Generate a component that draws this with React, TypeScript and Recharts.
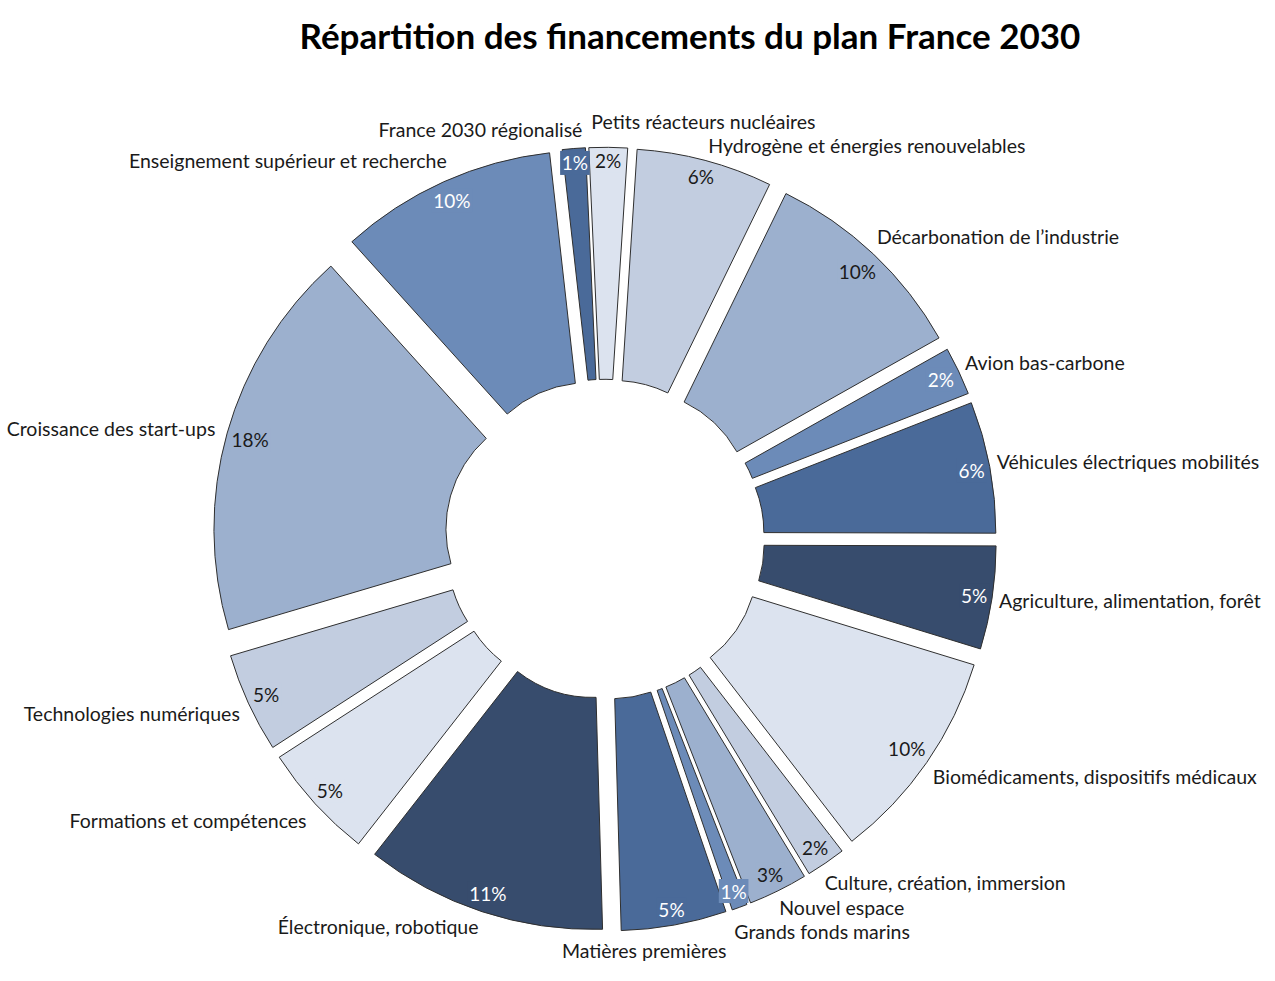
import React from 'react';
import { PieChart, Pie, Sector } from 'recharts';

// Funding areas of the France 2030 plan, clockwise from the top of the ring
const categories = [
  'Petits réacteurs nucléaires',
  'Hydrogène et énergies renouvelables',
  'Décarbonation de l’industrie',
  'Avion bas-carbone',
  'Véhicules électriques mobilités',
  'Agriculture, alimentation, forêt',
  'Biomédicaments, dispositifs médicaux',
  'Culture, création, immersion',
  'Nouvel espace',
  'Grands fonds marins',
  'Matières premières',
  'Électronique, robotique',
  'Formations et compétences',
  'Technologies numériques',
  'Croissance des start-ups',
  'Enseignement supérieur et recherche',
  'France 2030 régionalisé',
];

// Share of the total envelope, in %
const shares = [1.75, 6.2, 9.6, 2.2, 6.0, 4.7, 9.8, 1.8, 2.7, 0.7, 4.8, 11.0, 5.3, 4.55, 17.9, 9.9, 1.05];

const title = 'Répartition des financements du plan France 2030';

const data = categories.map((name, i) => ({ name, value: shares[i] }));

// Monochrome blue palette, cycled over the slices
const PALETTE = ['#DCE3EF', '#C2CDE0', '#9CB0CE', '#6C8BB8', '#4A6A99', '#374C6D'];

const FONT = 'Lato, Carlito, Calibri, sans-serif';
const RAD = Math.PI / 180;
const CX = 604.5;
const CY = 539.3;
const INNER = 122;
const OUTER = 354;
const EXPLODE = 38;
const START = 92.6;
const FS = 19;
const NAME_FS = 19.5;

// Hand-tuned shifts for category labels that would otherwise collide
const nameNudge: Record<string, { dx: number; dy: number; anchor?: 'start' | 'middle' | 'end' }> = {
  'Petits réacteurs nucléaires': { dx: -19, dy: -11 },
  'Décarbonation de l’industrie': { dx: -2, dy: -5 },
  'Agriculture, alimentation, forêt': { dx: 0, dy: -2 },
  'Biomédicaments, dispositifs médicaux': { dx: 0, dy: 4 },
  'Culture, création, immersion': { dx: -6, dy: 6 },
  'Nouvel espace': { dx: -3, dy: 3 },
  'Grands fonds marins': { dx: -9, dy: 10 },
  'Matières premières': { dx: -31, dy: 11, anchor: 'middle' },
  'Formations et compétences': { dx: -3, dy: 5 },
  'Technologies numériques': { dx: -2, dy: 2 },
  'Croissance des start-ups': { dx: -5, dy: 2 },
  'Enseignement supérieur et recherche': { dx: 7, dy: -7 },
  'France 2030 régionalisé': { dx: 11, dy: -4 },
};

const geometry = (p: any) => {
  const mid = (p.startAngle + p.endAngle) / 2;
  const ux = Math.cos(mid * RAD);
  const uy = -Math.sin(mid * RAD);
  return { ux, uy, ax: p.cx + EXPLODE * ux, ay: p.cy + EXPLODE * uy };
};

// Exploded ring slice, pushed outwards along its bisector
const renderSlice = (p: any) => {
  const { ax, ay } = geometry(p);
  return (
    <Sector
      cx={ax}
      cy={ay}
      innerRadius={p.innerRadius}
      outerRadius={p.outerRadius}
      startAngle={p.startAngle}
      endAngle={p.endAngle}
      fill={PALETTE[p.index % PALETTE.length]}
      stroke="#2f2f2f"
      strokeWidth={1}
    />
  );
};

// Percentage inside the outer end of the slice, category name outside it
const renderText = (p: any) => {
  const { ux, uy, ax, ay } = geometry(p);
  const color = PALETTE[p.index % PALETTE.length];
  const light = p.index % PALETTE.length < 3;
  const pct = `${Math.round(p.percent * 100)}%`;
  const hw = ((pct.length - 1) * 0.55 * FS + 0.8 * FS) / 2;
  const hh = FS * 0.5;
  const rText = p.outerRadius - 4 - (Math.abs(ux) * hw + Math.abs(uy) * hh);
  const tx = ax + rText * ux;
  const ty = ay + rText * uy;

  const name: string = p.name;
  const nudge = nameNudge[name] || { dx: 0, dy: 0 };
  const qx = ax + (p.outerRadius + 5) * ux;
  const qy = ay + (p.outerRadius + 5) * uy;
  const anchor = nudge.anchor || (ux >= 0 ? 'start' : 'end');
  const nx = qx + (anchor === 'middle' ? 0 : ux >= 0 ? 2 : -2) + nudge.dx;
  const ny = qy + Math.sign(uy) * Math.sqrt(Math.abs(uy)) * 10 + nudge.dy;

  return (
    <g>
      <rect x={tx - hw - 2} y={ty - 12} width={2 * hw + 4} height={24} fill={color} />
      <text
        x={tx}
        y={ty}
        textAnchor="middle"
        dominantBaseline="central"
        fontFamily={FONT}
        fontSize={FS}
        fill={light ? '#1a1a1a' : '#ffffff'}
      >
        {pct}
      </text>
      <text
        x={nx}
        y={ny}
        textAnchor={anchor}
        dominantBaseline="central"
        fontFamily={FONT}
        fontSize={NAME_FS}
        fill="#1a1a1a"
      >
        {name}
      </text>
    </g>
  );
};

export default function App() {
  return (
    <div style={{ position: 'absolute', left: 0, top: 0, width: 1275, height: 981, background: '#fff' }}>
      <PieChart width={1275} height={981} margin={{ top: 0, right: 0, bottom: 0, left: 0 }}>
        <Pie
          data={data}
          dataKey="value"
          nameKey="name"
          cx={CX}
          cy={CY}
          innerRadius={INNER}
          outerRadius={OUTER}
          startAngle={START}
          endAngle={START - 360}
          fill="none"
          stroke="none"
          label={renderSlice}
          labelLine={false}
          isAnimationActive={false}
        />
        <Pie
          data={data}
          dataKey="value"
          nameKey="name"
          cx={CX}
          cy={CY}
          innerRadius={INNER}
          outerRadius={OUTER}
          startAngle={START}
          endAngle={START - 360}
          fill="none"
          stroke="none"
          label={renderText}
          labelLine={false}
          isAnimationActive={false}
        />
      </PieChart>
      <div
        style={{
          position: 'absolute',
          left: 0,
          top: 13,
          width: 1380,
          textAlign: 'center',
          fontFamily: FONT,
          fontWeight: 700,
          fontSize: 35,
          lineHeight: '44px',
          color: '#000',
        }}
      >
        {title}
      </div>
    </div>
  );
}
